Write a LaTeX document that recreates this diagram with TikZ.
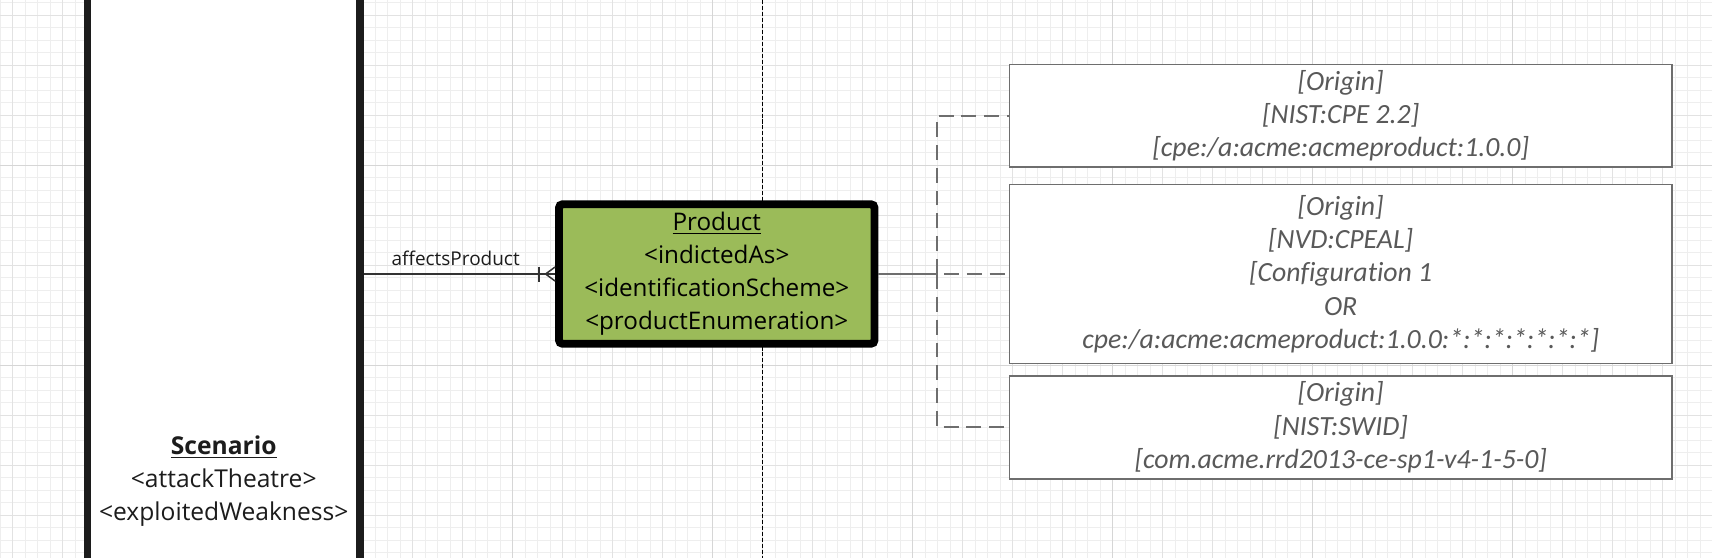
\documentclass[tikz,border=0pt]{standalone}
\usepackage{fontspec}
\setmainfont{Open Sans}
\newfontfamily\cpefont[Ligatures=NoCommon]{Carlito}
\definecolor{prodgreen}{HTML}{9BBB59}
\definecolor{cpegray}{HTML}{595959}
\definecolor{linegray}{HTML}{6E6E6E}
\definecolor{gridminor}{HTML}{EEEEEE}
\definecolor{gridmid}{HTML}{E2E2E2}
\definecolor{gridmajor}{HTML}{D6D6D6}
\definecolor{inkblack}{HTML}{1C1C1C}

\begin{document}
\begin{tikzpicture}[x=0.02cm,y=-0.02cm,
 scenbox/.style={rectangle,draw=inkblack,line width=4.5pt,fill=white,
                 minimum width=5.45cm,minimum height=18cm},
 entitytext/.style={align=center,text=inkblack,font=\fontsize{14}{18.8}\selectfont},
 prodbox/.style={rectangle,draw=black,line width=4.5pt,rounded corners=2pt,fill=prodgreen,
                 minimum width=6.31cm,minimum height=2.79cm,align=center,
                 font=\fontsize{13.8}{18.8}\selectfont},
 cpebox/.style={rectangle,draw=linegray,line width=0.8pt,fill=white,minimum width=13.25cm,
                align=center,text=cpegray,font=\cpefont\itshape\fontsize{15.8}{19}\selectfont},
 conn/.style={draw=black!80,line width=0.85pt},
 link/.style={draw=linegray,line width=1.1pt},
 dashlink/.style={link,dash pattern=on 8.5pt off 4.5pt},
 midline/.style={black,line width=0.6pt,dash pattern=on 2.3pt off 1.1pt}]
\useasboundingbox (0,0) rectangle (1712,558);
\clip (0,0) rectangle (1712,558);
\fill[white] (0,0) rectangle (1712,558);
% grid
\foreach \k in {0,...,136} \draw[gridminor,line width=0.5pt] (0.3+12.5*\k,0) -- (0.3+12.5*\k,558);
\foreach \k in {0,...,44} \draw[gridminor,line width=0.5pt] (0,2.5+12.5*\k) -- (1712,2.5+12.5*\k);
\foreach \k in {0,...,33} \draw[gridmid,line width=0.5pt] (12.3+50*\k,0) -- (12.3+50*\k,558);
\foreach \k in {0,...,10} \draw[gridmid,line width=0.5pt] (0,15+50*\k) -- (1712,15+50*\k);
\foreach \k in {0,...,7} \draw[gridmajor,line width=0.5pt] (112.5+200*\k,0) -- (112.5+200*\k,558);
\foreach \k in {1,2} \draw[gridmajor,line width=0.5pt] (0,-35+200*\k) -- (1712,-35+200*\k);
\coordinate (axistop) at (762.3,0);
\coordinate (axisbot) at (762.3,558);
\draw[midline] (axistop) -- (axisbot);

\node[scenbox] (scen) at (223.75,274) {};
\node[entitytext] (scenlbl) at (223.75,481)
  {\textbf{\underline{Scenario}}\\<attackTheatre>\\<exploitedWeakness>};
\node[prodbox] (prod) at (716.75,274)
  {\underline{Product}\\<indictedAs>\\<identificationScheme>\\<productEnumeration>};

\node[cpebox,minimum height=2.01cm] (nist) at (1340.7,115.7)
  {[Origin]\\{}[NIST:CPE 2.2]\\{}[cpe:/a:acme:acmeproduct:1.0.0]};
\node[cpebox,minimum height=3.57cm] (nvd) at (1340.7,274)
  {[Origin]\\{}[NVD:CPEAL]\\{}[Configuration 1\\OR\\cpe:/a:acme:acmeproduct:1.0.0:*:*:*:*:*:*:*]};
\node[cpebox,minimum height=2.0cm] (swid) at (1340.7,427.3)
  {[Origin]\\{}[NIST:SWID]\\{}[com.acme.rrd2013-ce-sp1-v4-1-5-0]};

% affectsProduct relation, one-or-many end
\draw[conn] (scen.east) -- (prod.west)
  node[pos=0.48,above=1pt,font=\fontsize{10.8}{13}\selectfont,text=inkblack] (rel) {affectsProduct};
\coordinate (crow) at ([xshift=-0.19cm]prod.west);
\draw[conn] ([yshift=0.14cm]prod.west) -- (crow) -- ([yshift=-0.14cm]prod.west);
\draw[conn] ([xshift=-0.32cm,yshift=0.15cm]prod.west) -- ([xshift=-0.32cm,yshift=-0.15cm]prod.west);

\coordinate (hub) at (937,274);
\draw[link] (prod.east) -- (hub);
\draw[dashlink] (hub) |- (nist.west);
\draw[dashlink] (hub) |- (swid.west);
\draw[dashlink] ([xshift=0.14cm]hub) -- (nvd.west);
\end{tikzpicture}
\end{document}
